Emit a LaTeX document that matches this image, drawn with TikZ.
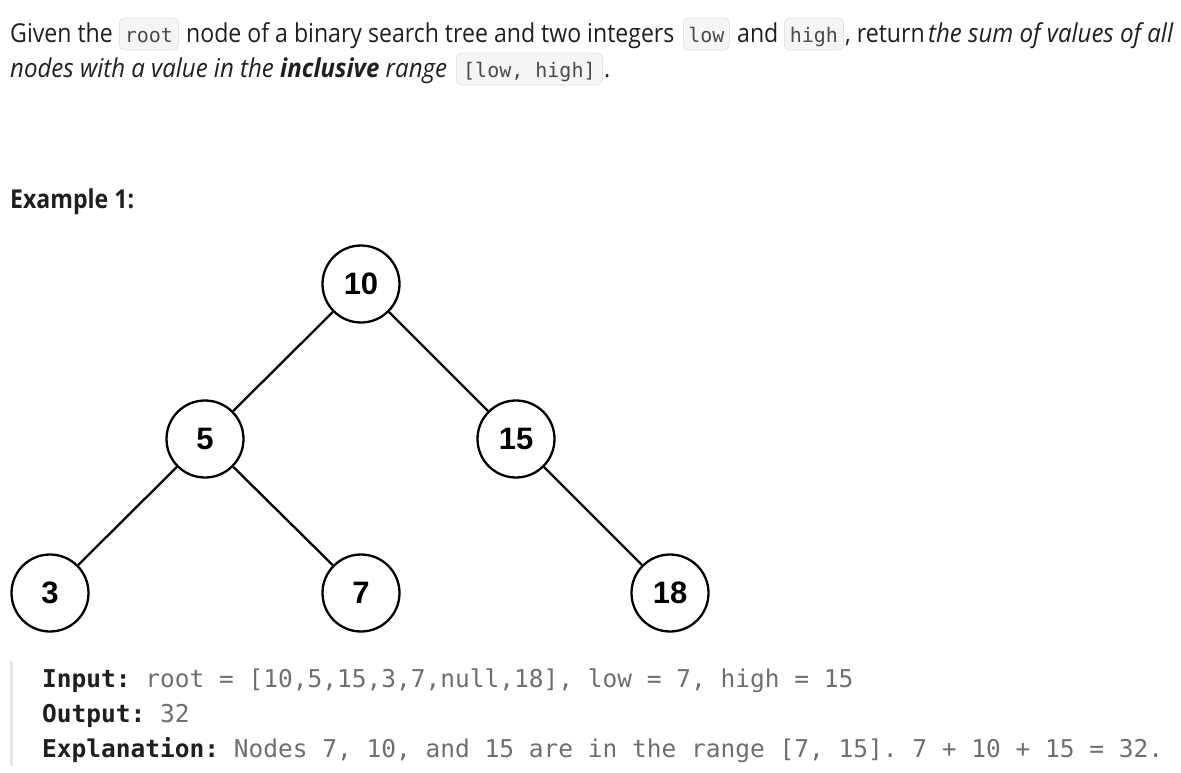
\documentclass[tikz,border=0pt]{standalone}
\usepackage{fontspec}
\setmainfont{Open Sans}[FakeStretch=0.888, ItalicFeatures={FakeStretch=0.925}, BoldItalicFeatures={FakeStretch=0.925}]
\newfontfamily\treefont{Liberation Sans}
\newfontfamily\codefont{DejaVu Sans Mono}
\definecolor{txt}{HTML}{1F1F1F}
\definecolor{chipfill}{HTML}{F5F5F5}
\definecolor{chipline}{HTML}{E3E3E3}
\definecolor{chiptxt}{HTML}{4A4A4A}
\definecolor{codegrey}{HTML}{6E6E6E}
\definecolor{barcol}{HTML}{E6E6E6}
\frenchspacing
\tikzset{
  prose/.style={anchor=base west, inner sep=0pt, text=txt, font=\fontsize{26}{37}\selectfont},
  chip/.style={anchor=base west, inner xsep=0pt, inner ysep=0pt, text height=24pt, text depth=8pt,
    fill=chipfill, draw=chipline, line width=0.8pt, rounded corners=5pt, text=chiptxt,
    font=\codefont\fontsize{20}{24}\selectfont},
  codeline/.style={anchor=base west, inner sep=0pt, text=codegrey, font=\codefont\fontsize{24.5}{30}\selectfont},
  treenode/.style={circle, draw=black, line width=2.3pt, minimum size=77pt, inner sep=0pt, fill=white,
    font=\treefont\bfseries\fontsize{31}{34}\selectfont},
  edge/.style={draw=black, line width=2.3pt}
}
\begin{document}
\begin{tikzpicture}[x=1pt,y=-1pt]
\useasboundingbox (0,0) rectangle (1181,772);
% line 1
\node[prose] (t1) at (10,42) {Given the};
\node[chip, minimum width=59pt] (c1) at (119,42) {root};
\node[prose] (t2) at (186,42) {node of a binary search tree and two integers};
\node[chip, minimum width=46pt] (c2) at (683,42) {low};
\node[prose] (t3) at (737,42) {and};
\node[chip, minimum width=59pt] (c3) at (784,42) {high};
\node[prose] (t4) at (845,42) {, return};
\node[prose] (t5) at (928,42) {\itshape the sum of values of all};
% line 2
\node[prose] (t6) at (10,77) {\itshape nodes with a value in the \textbf{inclusive} range};
\node[chip, minimum width=146pt] (c4) at (456,77) {[low, high]};
\node[prose] (t7) at (604,77) {.};
% Example heading
\node[prose, font=\fontsize{26}{37}\selectfont\bfseries] (ex) at (10,208) {Example 1:};
% tree
\node[treenode] (n10) at (361,284) {10};
\node[treenode] (n5) at (205,439) {5};
\node[treenode] (n15) at (516,439) {15};
\node[treenode] (n3) at (50,593) {3};
\node[treenode] (n7) at (361,593) {7};
\node[treenode] (n18) at (670,593) {18};
\draw[edge] (n10) -- (n5);
\draw[edge] (n10) -- (n15);
\draw[edge] (n5) -- (n3);
\draw[edge] (n5) -- (n7);
\draw[edge] (n15) -- (n18);
% example block
\fill[barcol] (10,661) rectangle (13,766);
\node[codeline] (l1) at (42,687) {\textbf{\color{txt}Input:} root = [10,5,15,3,7,null,18], low = 7, high = 15};
\node[codeline] (l2) at (42,722) {\textbf{\color{txt}Output:} 32};
\node[codeline] (l3) at (42,757) {\textbf{\color{txt}Explanation:} Nodes 7, 10, and 15 are in the range [7, 15]. 7 + 10 + 15 = 32.};
\end{tikzpicture}
\end{document}
